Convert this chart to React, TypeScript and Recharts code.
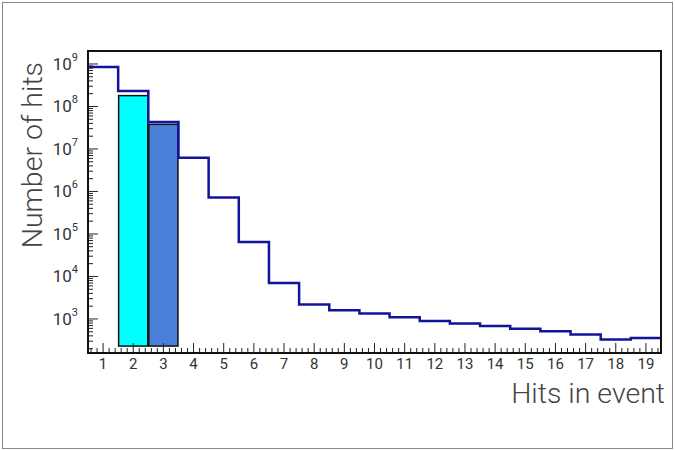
import React from "react";
import { ComposedChart, Line, Bar, Cell, XAxis, YAxis, Label } from "recharts";

// hits per event, one bin per multiplicity
const BINS = [1, 2, 3, 4, 5, 6, 7, 8, 9, 10, 11, 12, 13, 14, 15, 16, 17, 18, 19];
const HITS = [
  8.5e8, 2.3e8, 4.3e7, 6.2e6, 7.2e5, 6.5e4, 7.0e3, 2.2e3, 1.6e3, 1.35e3,
  1.1e3, 900, 780, 680, 590, 510, 430, 330, 355,
];

// highlighted bins (filled)
const SELECTED_BINS = [2, 3];
const SELECTED_HITS = [1.8e8, 3.8e7];
const SELECTED_FLOOR = 230;
const SELECTED_COLORS = ["#00ffff", "#4a7fd8"];

const X_TICKS = BINS;
const Y_MAJOR = [1e3, 1e4, 1e5, 1e6, 1e7, 1e8, 1e9];
const Y_DOMAIN = [158, 2.02e9];
const X_DOMAIN = [0.5, 19.5];

const W = 675;
const H = 450;
const PLOT_LEFT = 88;
const PLOT_RIGHT = 661;
const PLOT_TOP = 51;
const PLOT_BOTTOM = 353;
const UNIT_PX = (PLOT_RIGHT - PLOT_LEFT) / (X_DOMAIN[1] - X_DOMAIN[0]);

const LINE_COLOR = "#13139a";
const TEXT_COLOR = "#333";
const FONT = "Roboto, 'Noto Sans', sans-serif";

// bin edges carry the step outline, bin centres carry the filled bars
const chartData: any[] = [
  ...BINS.map((b, i) => ({ x: b - 0.5, hits: HITS[i] })),
  { x: BINS[BINS.length - 1] + 0.5, hits: HITS[HITS.length - 1] },
  ...SELECTED_BINS.map((b, i) => ({
    x: b,
    range: [SELECTED_FLOOR, SELECTED_HITS[i]],
    color: SELECTED_COLORS[i],
  })),
].sort((a, b) => a.x - b.x);

const yTicks: number[] = [];
for (let e = 2; e <= 9; e++) {
  for (let m = 1; m <= 9; m++) {
    const v = m * Math.pow(10, e);
    if (v >= Y_DOMAIN[0] && v <= Y_DOMAIN[1]) yTicks.push(v);
  }
}

const XTick = (props: any) => {
  const { x, y, payload } = props;
  const offs = [-0.4, -0.2, 0.2, 0.4];
  return (
    <g>
      <line x1={x} x2={x} y1={y} y2={y - 10} stroke="#222" strokeWidth={1} />
      {offs.map((o) => (
        <line
          key={o}
          x1={x + o * UNIT_PX}
          x2={x + o * UNIT_PX}
          y1={y}
          y2={y - 5}
          stroke="#222"
          strokeWidth={1}
        />
      ))}
      <text
        x={x}
        y={y + 16}
        textAnchor="middle"
        fontSize={15}
        fontFamily={FONT}
        fill={TEXT_COLOR}
      >
        {payload.value}
      </text>
    </g>
  );
};

const YTick = (props: any) => {
  const { x, y, payload } = props;
  const v = payload.value;
  const exp = Math.round(Math.log10(v));
  const major = Y_MAJOR.includes(v);
  return (
    <g>
      <line x1={x} x2={x + (major ? 10 : 5)} y1={y} y2={y} stroke="#222" strokeWidth={1} />
      {major && (
        <text
          x={x - 10}
          y={y + 6}
          textAnchor="end"
          fontSize={17}
          fontFamily={FONT}
          fill={TEXT_COLOR}
        >
          10
          <tspan dy={-9} fontSize={11}>
            {exp}
          </tspan>
        </text>
      )}
    </g>
  );
};

// full-bin-width rectangle centred on the bar's own slot
const BinBar = (props: any) => {
  const { x, y, width, height, fill } = props;
  if (!height || fill === "none") return null;
  const cx = x + width / 2;
  return (
    <rect
      x={cx - UNIT_PX / 2 + 0.5}
      y={y}
      width={UNIT_PX - 1}
      height={height}
      fill={fill}
      stroke="#111"
      strokeWidth={1.5}
    />
  );
};

export default function App() {
  return (
    <div
      style={{
        position: "absolute",
        left: 0,
        top: 0,
        width: W,
        height: H,
        background: "#fff",
      }}
    >
      <div
        style={{
          position: "absolute",
          left: 2,
          top: 2,
          width: W - 4,
          height: H - 3,
          border: "1px solid #888",
          boxSizing: "border-box",
        }}
      />
      <ComposedChart
        width={W}
        height={H}
        data={chartData}
        margin={{ top: PLOT_TOP, right: W - PLOT_RIGHT, bottom: 0, left: 0 }}
        style={{ position: "absolute", left: 0, top: 0 }}
      >
        <XAxis
          dataKey="x"
          type="number"
          domain={X_DOMAIN}
          ticks={X_TICKS}
          interval={0}
          allowDataOverflow
          height={H - PLOT_BOTTOM}
          tickSize={0}
          tickMargin={0}
          tickLine={false}
          tick={<XTick />}
          axisLine={{ stroke: "#111", strokeWidth: 2 }}
        >
          <Label
            content={() => (
              <text
                x={665}
                y={403}
                textAnchor="end"
                fontSize={28.5}
                fontWeight={300}
                fontFamily={FONT}
                fill="#444"
              >
                Hits in event
              </text>
            )}
          />
        </XAxis>
        <YAxis
          scale="log"
          type="number"
          domain={Y_DOMAIN}
          ticks={yTicks}
          interval={0}
          allowDataOverflow
          width={PLOT_LEFT}
          tickSize={0}
          tickMargin={0}
          tickLine={false}
          tick={<YTick />}
          axisLine={{ stroke: "#111", strokeWidth: 2 }}
        >
          <Label
            content={() => (
              <text
                x={42}
                y={62}
                transform="rotate(-90 42 62)"
                textAnchor="end"
                fontSize={28.5}
                fontWeight={300}
                fontFamily={FONT}
                fill="#444"
              >
                Number of hits
              </text>
            )}
          />
        </YAxis>
        <Bar
          dataKey="range"
          shape={<BinBar />}
          isAnimationActive={false}
        >
          {chartData.map((d, i) => (
            <Cell key={i} fill={d.color || "none"} />
          ))}
        </Bar>
        <Line
          dataKey="hits"
          type="stepAfter"
          connectNulls
          stroke={LINE_COLOR}
          strokeWidth={2.5}
          dot={false}
          isAnimationActive={false}
        />
      </ComposedChart>
      <div
        style={{
          position: "absolute",
          left: PLOT_LEFT - 1,
          top: PLOT_TOP - 1,
          width: PLOT_RIGHT - PLOT_LEFT + 2,
          height: PLOT_BOTTOM - PLOT_TOP + 2,
          border: "2px solid #111",
          boxSizing: "border-box",
          pointerEvents: "none",
        }}
      />
    </div>
  );
}
